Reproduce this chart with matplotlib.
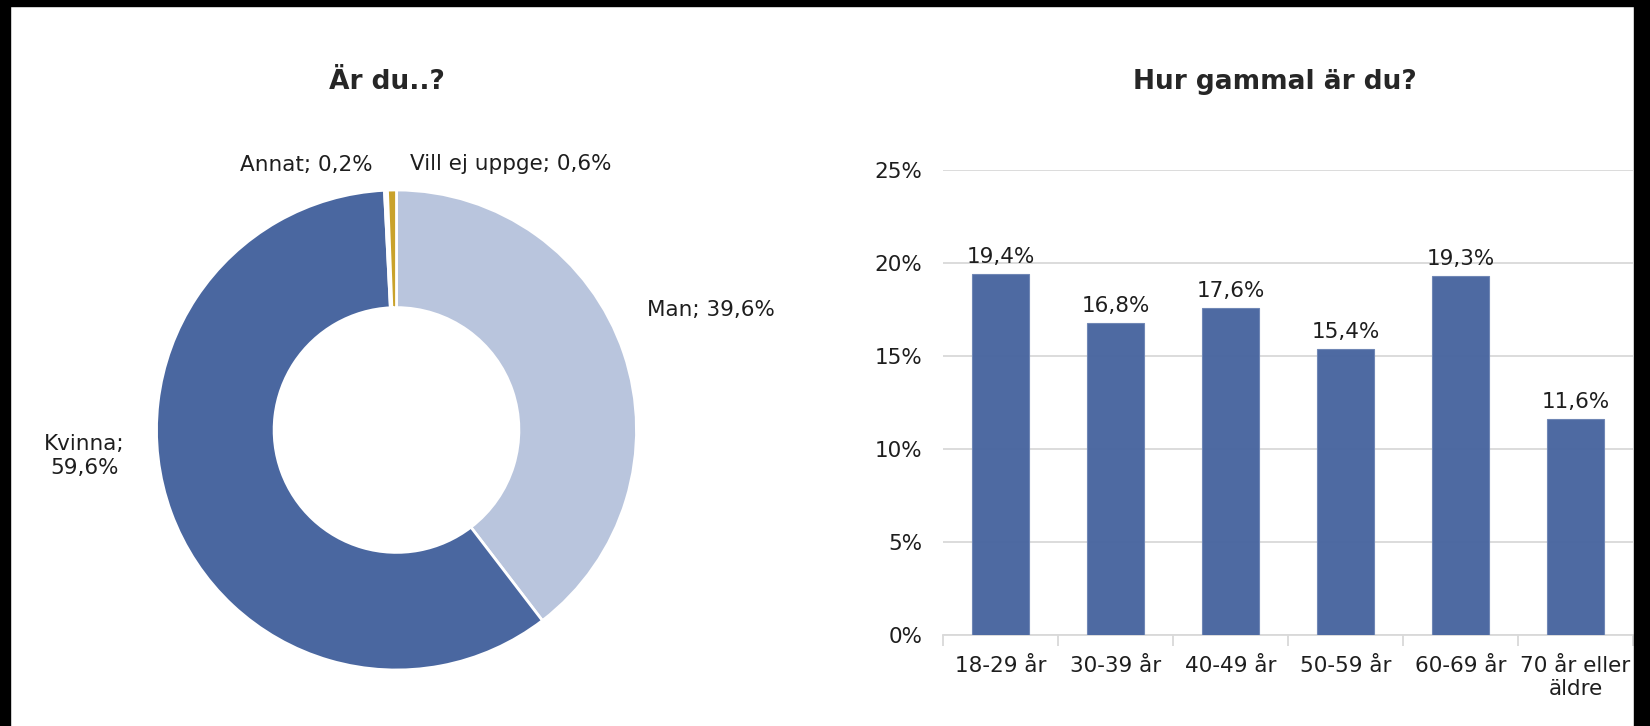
import matplotlib
matplotlib.use("Agg")
import matplotlib.pyplot as plt
from matplotlib.patches import Rectangle

# --- data ---
gender_labels = ["Man", "Kvinna", "Annat", "Vill ej uppge"]
gender_values = [39.6, 59.6, 0.2, 0.6]

age_labels = ["18-29 år", "30-39 år", "40-49 år", "50-59 år", "60-69 år", "70 år eller\näldre"]
age_values = [19.4, 16.8, 17.6, 15.4, 19.3, 11.6]

dark_blue = "#4a67a0"
light_blue = "#b9c5dd"
gold = "#c9a22b"
text_col = "#1e1e1e"

plt.rcParams["font.family"] = ["DejaVu Sans"]
plt.rcParams["font.size"] = 15.5


def pct(v):
    return ("%.1f" % v).replace(".", ",") + "%"


W, H = 1650, 726
fig = plt.figure(figsize=(W / 100, H / 100), dpi=100)

# black frame bits from the screenshot
fig.patches.append(Rectangle((0, 1 - 6 / H), 1, 6 / H, transform=fig.transFigure, color="black"))
fig.patches.append(Rectangle((0, 0), 10 / W, 1, transform=fig.transFigure, color="black"))
fig.patches.append(Rectangle((1634 / W, 0), 16 / W, 1, transform=fig.transFigure, color="black"))

# --- donut ---
cx, cy, r = 396.5, 430, 240
ax1 = fig.add_axes([(cx - r) / W, 1 - (cy + r) / H, 2 * r / W, 2 * r / H])
ax1.pie(gender_values, colors=[light_blue, dark_blue, "#f2f2f2", gold],
        startangle=90, counterclock=False, radius=1,
        wedgeprops=dict(width=0.49, edgecolor="white", linewidth=2))
ax1.set_xlim(-1, 1)
ax1.set_ylim(-1, 1)
ax1.axis("off")

label_pos = [(1.31, 0.50), (-1.30, -0.11), (-0.377, 1.104), (0.477, 1.11)]
for name, v, (lx, ly) in zip(gender_labels, gender_values, label_pos):
    txt = name + "; " + pct(v)
    if name == "Kvinna":
        txt = name + ";\n" + pct(v)
    ax1.text(lx, ly, txt, ha="center", va="center", color=text_col,
             linespacing=1.25, clip_on=False)

fig.text(387 / W, 1 - 82 / H, "Är du..?", ha="center", va="center",
         fontsize=19, fontweight="bold", color="#262626")

# --- bars ---
ax2 = fig.add_axes([943 / W, 1 - 635 / H, (1633 - 943) / W, (635 - 170) / H])
x = list(range(len(age_labels)))
bars = ax2.bar(x, [v / 100 for v in age_values], width=0.49, color=dark_blue,
               edgecolor="#6f86b5", linewidth=0.8, zorder=3, alpha=0.98)
ax2.bar_label(bars, labels=[pct(v) for v in age_values], padding=5,
              color=text_col, fontsize=15.5)

ax2.set_xlim(-0.5, len(age_labels) - 0.5)
ax2.set_ylim(0, 0.25)
ax2.set_yticks([0, 0.05, 0.10, 0.15, 0.20, 0.25])
ax2.set_yticklabels(["0%", "5%", "10%", "15%", "20%", "25%"], color=text_col)
ax2.tick_params(axis="y", length=0, pad=15)
ax2.grid(axis="y", color="#d9d9d9", linewidth=1.3, zorder=0)
ax2.set_axisbelow(True)

ax2.set_xticks(x)
ax2.set_xticklabels(age_labels, color=text_col, va="top", linespacing=1.2)
ax2.set_xticks([i - 0.5 for i in range(len(age_labels) + 1)], minor=True)
ax2.tick_params(axis="x", which="major", length=0, pad=15)
ax2.tick_params(axis="x", which="minor", length=8, color="#d9d9d9", width=1.3)

for s in ["top", "right", "left"]:
    ax2.spines[s].set_visible(False)
ax2.spines["bottom"].set_color("#d9d9d9")
ax2.spines["bottom"].set_linewidth(1.3)

fig.text(1275 / W, 1 - 82 / H, "Hur gammal är du?", ha="center", va="center",
         fontsize=19, fontweight="bold", color="#262626")

fig.savefig("out.png", dpi=100, facecolor="white")
